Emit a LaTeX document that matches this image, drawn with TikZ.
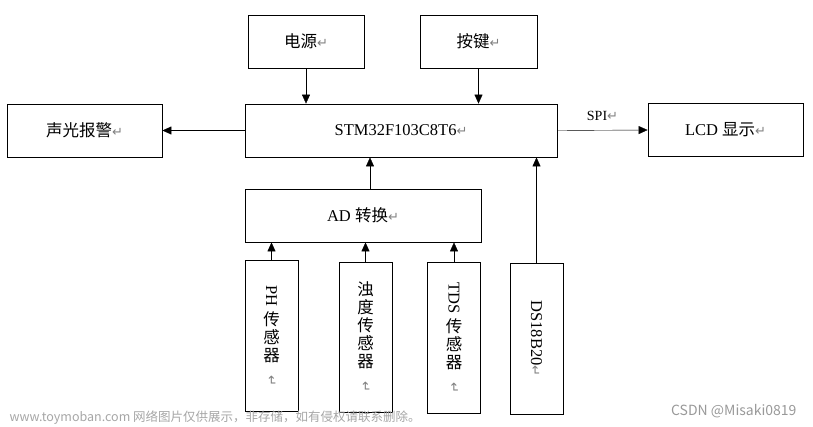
\documentclass[tikz,border=0pt]{standalone}
\usepackage{fontspec}
\setmainfont{Liberation Serif}
\newfontfamily\cjk{Noto Sans CJK SC}
\newfontfamily\symfont{DejaVu Sans}
\usetikzlibrary{arrows.meta}
\newcommand\ret{{\symfont\fontsize{13}{13}\selectfont\color{gray}↵}}
\newcommand\vret{\rotatebox{-90}{\ret}}
\begin{document}
\begin{tikzpicture}[x=1pt,y=-1pt,
  blk/.style={draw, line width=0.8pt, inner sep=0pt, font=\fontsize{16.5}{18}\selectfont},
  vblk/.style={blk, minimum width=53, minimum height=151, align=center},
  >={Triangle[length=9pt,width=8pt]}]
  \useasboundingbox (0,0) rectangle (813,426);
  % top row
  \node[blk, minimum width=116, minimum height=53] (pwr) at (306,41.5) {\cjk 电源\ret};
  \node[blk, minimum width=117, minimum height=53] (key) at (478.5,41.5) {\cjk 按键\ret};
  % middle row
  \node[blk, minimum width=155, minimum height=53] (alarm) at (84.5,130.5) {\cjk 声光报警\ret};
  \node[blk, minimum width=312, minimum height=53] (mcu) at (401,130.5) {STM32F103C8T6\ret};
  \node[blk, minimum width=155, minimum height=53] (lcd) at (725.5,130) {LCD {\cjk 显示}\ret};
  \node[blk, minimum width=236, minimum height=53] (ad) at (363,215.5) {AD {\cjk 转换}\ret};
  % sensors
  \node[vblk] (ph) at (271.5,336) {\rotatebox{-90}{PH\ }\\{\cjk 传}\\{\cjk 感}\\{\cjk 器}\\[-4pt]\vret};
  \node[vblk, minimum height=150] (turb) at (365.5,337) {{\cjk 浊}\\{\cjk 度}\\{\cjk 传}\\{\cjk 感}\\{\cjk 器}\\[-4pt]\vret};
  \node[vblk] (tds) at (454,337.5) {\rotatebox{-90}{TDS\ }\\{\cjk 传}\\{\cjk 感}\\{\cjk 器}\\[-4pt]\vret};
  \node[vblk] (ds) at (536.5,338.5) {\rotatebox{-90}{DS18B20\ret}};
  % connectors
  \draw[->] (pwr.south) -- (pwr.south |- mcu.north);
  \draw[->] (key.south) -- (key.south |- mcu.north);
  \draw[->] (mcu.west) -- (alarm.east);
  \draw[->] (mcu.east) -- node[above=6pt, font=\fontsize{14}{16}\selectfont] (spi) {SPI\ret} (lcd.west);
  \draw[->] ([xshift=7pt]ad.north) -- ([xshift=7pt]ad.north |- mcu.south);
  \draw[->] (ds.north) -- (ds.north |- mcu.south);
  \foreach \s in {ph, turb, tds}
    \draw[->] (\s.north) -- (\s.north |- ad.south);
  % watermark
  \node[anchor=west, text=gray!70, font=\cjk\fontsize{12.5}{14}\selectfont] (wm) at (6,418) {www.toymoban.com 网络图片仅供展示，非存储，如有侵权请联系删除。};
  \node[anchor=east, text=gray!80, font=\cjk\fontsize{14}{16}\selectfont] (csdn) at (800,411) {CSDN @Misaki0819};
\end{tikzpicture}
\end{document}
